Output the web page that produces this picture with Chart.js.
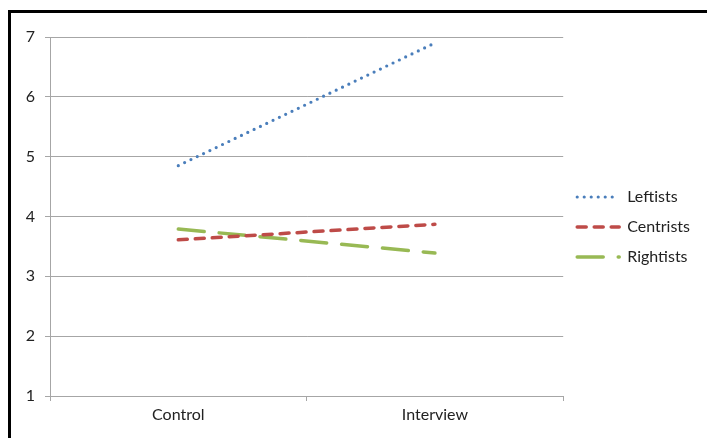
<!DOCTYPE html>
<html>
<head>
<meta charset="utf-8">
<script src="https://cdn.jsdelivr.net/npm/chart.js@4.4.1/dist/chart.umd.min.js"></script>
<style>
  html, body { margin: 0; padding: 0; background: #fff; }
  body { width: 707px; height: 438px; position: relative; overflow: hidden; }
  #frame { position: absolute; left: 8px; top: 10px; right: 0; bottom: 0;
           border-left: 3px solid #000; border-top: 3px solid #000; }
  #wrap { position: absolute; left: 11px; top: 13px; width: 696px; height: 425px; }
</style>
</head>
<body>
<div id="frame"></div>
<div id="wrap"><canvas id="chart"></canvas></div>
<script>
const categories = ['Control', 'Interview'];
const leftists = [4.85, 6.9];
const centrists = [3.61, 3.87];
const rightists = [3.79, 3.39];
const yTicks = [1, 2, 3, 4, 5, 6, 7];

const fontFamily = 'Lato, "Open Sans", sans-serif';
const gridColor = '#a6a6a6';

// legend samples should carry the same dash pattern as the lines
const dashedLabels = (chart) => {
    const items = Chart.defaults.plugins.legend.labels.generateLabels(chart);
    items.forEach(item => {
        const ds = chart.data.datasets[item.datasetIndex];
        item.lineDash = ds.borderDash;
        item.lineCap = ds.borderCapStyle;
        item.lineWidth = ds.borderWidth;
        item.strokeStyle = ds.borderColor;
    });
    return items;
};

new Chart(document.getElementById('chart'), {
    type: 'line',
    data: {
        labels: categories,
        datasets: [
            {
                label: 'Leftists',
                data: leftists,
                borderColor: '#4a7ebb',
                borderWidth: 3.2,
                borderDash: [0, 7],
                borderCapStyle: 'round',
                pointRadius: 0,
                tension: 0
            },
            {
                label: 'Centrists',
                data: centrists,
                borderColor: '#be4b48',
                borderWidth: 3.5,
                borderDash: [9, 8],
                borderCapStyle: 'round',
                pointRadius: 0,
                tension: 0
            },
            {
                label: 'Rightists',
                data: rightists,
                borderColor: '#98b954',
                borderWidth: 3.5,
                borderDash: [26, 15],
                borderCapStyle: 'round',
                pointRadius: 0,
                tension: 0
            }
        ]
    },
    options: {
        responsive: true,
        maintainAspectRatio: false,
        animation: false,
        layout: { padding: { top: 24, right: 7, left: 0, bottom: 0 } },
        plugins: {
            tooltip: { enabled: false },
            legend: {
                position: 'right',
                fullSize: false,
                title: { display: true, text: ' ', padding: 0, font: { size: 17.5, lineHeight: 1.2 } },
                labels: {
                    usePointStyle: true,
                    pointStyle: 'line',
                    pointStyleWidth: 42,
                    padding: 14,
                    color: '#222',
                    font: { family: fontFamily, size: 16 },
                    generateLabels: dashedLabels
                }
            }
        },
        scales: {
            x: {
                offset: true,
                grid: { display: true, drawOnChartArea: false, offset: true, tickLength: 5, color: gridColor },
                border: { display: true, color: gridColor },
                ticks: { color: '#222', padding: 4, font: { family: fontFamily, size: 16 } },
                afterFit: (scale) => { scale.height = 42; }
            },
            y: {
                min: 1,
                max: 7,
                afterBuildTicks: (scale) => { scale.ticks = yTicks.map(v => ({ value: v })); },
                grid: { color: gridColor, tickLength: 5 },
                border: { display: true, color: gridColor },
                ticks: { color: '#222', padding: 10, font: { family: fontFamily, size: 16 } },
                afterFit: (scale) => { scale.width = 39; }
            }
        }
    }
});
</script>
</body>
</html>
